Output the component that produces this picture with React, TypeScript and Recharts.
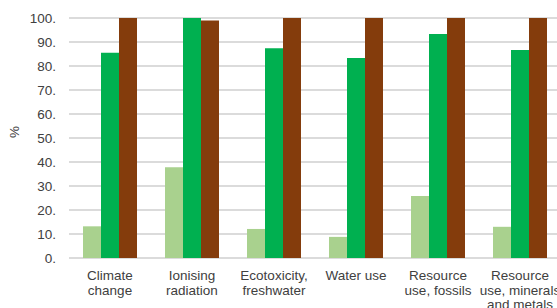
import { BarChart, Bar, XAxis, YAxis, CartesianGrid } from 'recharts'

const categories = [
  'Climate\nchange',
  'Ionising\nradiation',
  'Ecotoxicity,\nfreshwater',
  'Water use',
  'Resource\nuse, fossils',
  'Resource\nuse, minerals\nand metals',
]
const lightValues = [13.2, 37.8, 12.1, 8.8, 25.8, 13.0]
const greenValues = [85.5, 100, 87.4, 83.3, 93.3, 86.7]
const brownValues = [100, 99.0, 100, 100, 100, 100]
const yTicks = [0, 10, 20, 30, 40, 50, 60, 70, 80, 90, 100]

const FONT = '"Liberation Sans", Arial, sans-serif'
const TEXT = '#404040'

const data = categories.map((name, i) => ({
  name,
  light: lightValues[i],
  green: greenValues[i],
  brown: brownValues[i],
}))

// multi-line category label
const CategoryTick = ({ x, y, payload }: any) => {
  const lines = String(payload.value).split('\n')
  return (
    <text x={x} y={y} textAnchor="middle" fill={TEXT} fontFamily={FONT} fontSize={13.5}>
      {lines.map((line, i) => (
        <tspan key={i} x={x} dy={i === 0 ? 14 : 14.5}>
          {line}
        </tspan>
      ))}
    </text>
  )
}

export default function App() {
  return (
    <div
      style={{
        position: 'fixed',
        left: 0,
        top: 0,
        width: 557,
        height: 308,
        overflow: 'hidden',
        background: '#fff',
      }}
    >
      <BarChart
        width={561}
        height={308}
        data={data}
        margin={{ top: 18, right: 0, left: 0, bottom: 0 }}
        barGap={0}
        barCategoryGap={14}
      >
        <CartesianGrid vertical={false} stroke="#b8b8b8" strokeWidth={1.2} />
        <XAxis
          dataKey="name"
          axisLine={false}
          tickLine={false}
          height={50}
          interval={0}
          tick={<CategoryTick />}
        />
        <YAxis
          domain={[0, 100]}
          ticks={yTicks}
          width={69}
          axisLine={false}
          tickLine={false}
          tickSize={0}
          tickMargin={13}
          tickFormatter={(v: number) => `${v}.`}
          tick={{ fill: TEXT, fontFamily: FONT, fontSize: 13.5 }}
          label={{
            value: '%',
            angle: -90,
            position: 'insideLeft',
            offset: 14,
            fill: TEXT,
            fontFamily: FONT,
            fontSize: 13.5,
          }}
        />
        <Bar dataKey="light" fill="#a9d18e" barSize={18} isAnimationActive={false} />
        <Bar dataKey="green" fill="#00b050" barSize={18} isAnimationActive={false} />
        <Bar dataKey="brown" fill="#843c0c" barSize={18} isAnimationActive={false} />
      </BarChart>
    </div>
  )
}
